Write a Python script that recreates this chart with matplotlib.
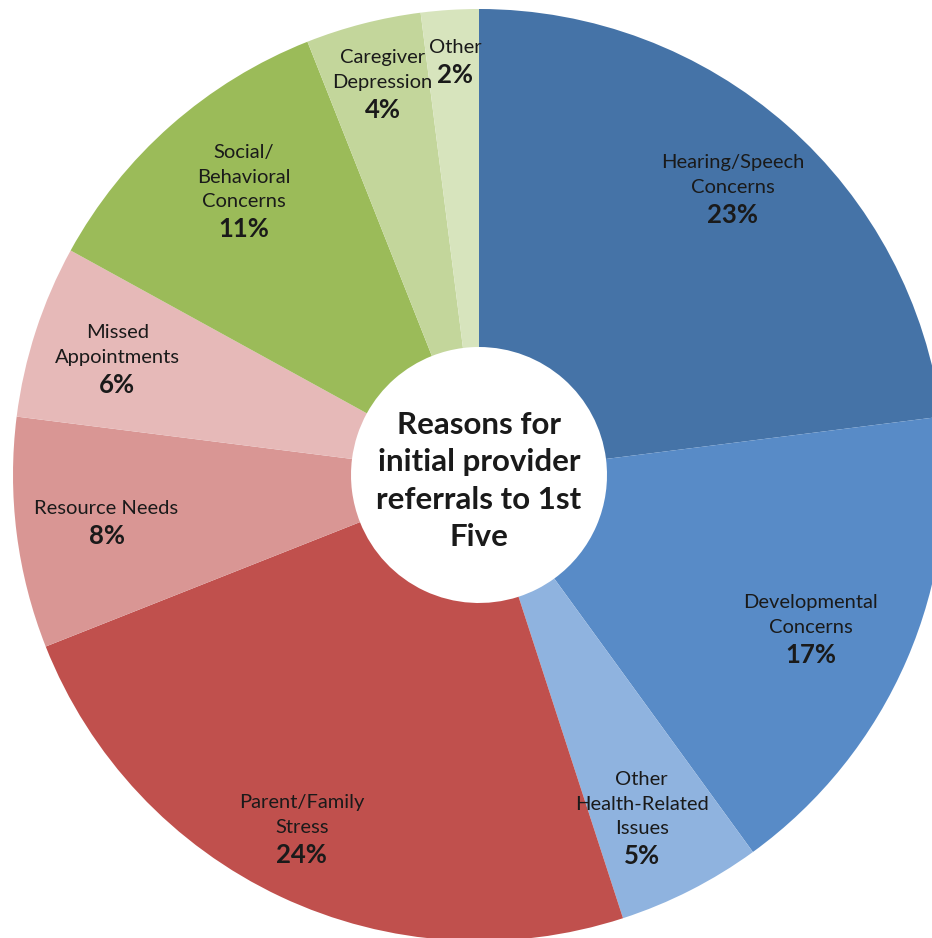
import matplotlib
matplotlib.use("Agg")
import numpy as np
from matplotlib import pyplot as plt

plt.rcParams['font.family'] = ['Lato', 'DejaVu Sans']

# slices, clockwise from 12 o'clock
categories = ["Hearing/Speech\nConcerns", "Developmental\nConcerns", "Other\nHealth-Related\nIssues",
              "Parent/Family\nStress", "Resource Needs", "Missed\nAppointments",
              "Social/\nBehavioral\nConcerns", "Caregiver\nDepression", "Other"]
shares = [23, 17, 5, 24, 8, 6, 11, 4, 2]
colors = ["#4573A7", "#588BC7", "#8FB3DF", "#C0504D", "#D99694", "#E6B9B8",
          "#9BBB59", "#C3D69B", "#D7E4BD"]
title = "Reasons for\ninitial provider\nreferrals to 1st\nFive"

# where the percentage sits: fraction of radius, and turn off the slice middle (deg)
label_r = [0.78, 0.81, 0.89, 0.90, 0.81, 0.80, 0.73, 0.81, 0.86]
label_turn = [-2.9, -5.1, -3.9, 0.2, 2.1, 4.0, 2.4, 0.4, -0.2]

W, H = 932, 938
cx, cy, R = 479, 463, 466
HOLE = 128

fig = plt.figure(figsize=(W / 100, H / 100), dpi=100)
ax = fig.add_axes([0, 0, 1, 1])

wedges, _ = ax.pie(shares, colors=colors, startangle=90, counterclock=False,
                   center=(cx, cy), radius=R,
                   wedgeprops=dict(width=R - HOLE, linewidth=0))

for w, lab, pct, fr, turn in zip(wedges, categories, shares, label_r, label_turn):
    ang = np.deg2rad((w.theta1 + w.theta2) / 2 + turn)
    x = cx + fr * R * np.cos(ang)
    y = cy + fr * R * np.sin(ang)
    ax.text(x, y + 19, lab, ha="center", va="bottom", fontsize=14.5,
            color="#1a1a1a", linespacing=1.55)
    ax.text(x, y, f"{pct}%", ha="center", va="center", fontsize=18.5,
            fontweight="bold", color="#1a1a1a")

ax.text(cx, cy - 6, title, ha="center", va="center", fontsize=22.5,
        fontweight="bold", color="#1a1a1a", linespacing=1.4)

ax.set_xlim(0, W)
ax.set_ylim(0, H)
ax.set_aspect("equal")
ax.axis("off")

fig.savefig("out.png", dpi=100, facecolor="white")
